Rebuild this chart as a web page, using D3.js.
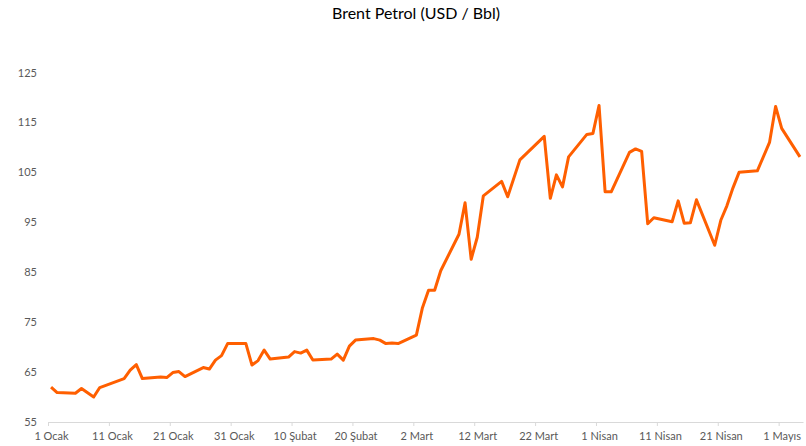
<!DOCTYPE html>
<html>
<head>
<meta charset="utf-8">
<script src="https://cdn.jsdelivr.net/npm/d3@7"></script>
<style>
  body { margin: 0; background: #fff; }
  svg { display: block; font-family: Lato, "Open Sans", sans-serif; }
</style>
</head>
<body>
<div id="chart"></div>
<script>
const width = 806;
const height = 446;

// Brent daily closes (trading days)
const dates = [
  "2026-01-01", "2026-01-02", "2026-01-05", "2026-01-06", "2026-01-08", "2026-01-09",
  "2026-01-13", "2026-01-14", "2026-01-15", "2026-01-16", "2026-01-19", "2026-01-20",
  "2026-01-21", "2026-01-22", "2026-01-23", "2026-01-26", "2026-01-27", "2026-01-28",
  "2026-01-29", "2026-01-30", "2026-02-02", "2026-02-03", "2026-02-04", "2026-02-05",
  "2026-02-06", "2026-02-09", "2026-02-10", "2026-02-11", "2026-02-12", "2026-02-13",
  "2026-02-16", "2026-02-17", "2026-02-18", "2026-02-19", "2026-02-20", "2026-02-23",
  "2026-02-24", "2026-02-25", "2026-02-26", "2026-02-27", "2026-03-02", "2026-03-03",
  "2026-03-04", "2026-03-05", "2026-03-06", "2026-03-09", "2026-03-10", "2026-03-11",
  "2026-03-12", "2026-03-13", "2026-03-16", "2026-03-17", "2026-03-19", "2026-03-23",
  "2026-03-24", "2026-03-25", "2026-03-26", "2026-03-27", "2026-03-30", "2026-03-31",
  "2026-04-01", "2026-04-02", "2026-04-03", "2026-04-06", "2026-04-07", "2026-04-08",
  "2026-04-09", "2026-04-10", "2026-04-13", "2026-04-14", "2026-04-15", "2026-04-16",
  "2026-04-17", "2026-04-20", "2026-04-21", "2026-04-22", "2026-04-23", "2026-04-24",
  "2026-04-27", "2026-04-29", "2026-04-30", "2026-05-01", "2026-05-04"
];
const prices = [
  62.0, 60.9, 60.75, 61.7, 60.0, 61.9,
  63.7, 65.4, 66.5, 63.7, 64.0, 63.9,
  64.9, 65.1, 64.1, 65.9, 65.6, 67.4,
  68.3, 70.7, 70.7, 66.4, 67.3, 69.4,
  67.6, 68.0, 69.1, 68.8, 69.4, 67.4,
  67.6, 68.6, 67.4, 70.2, 71.4, 71.7,
  71.4, 70.7, 70.8, 70.7, 72.4, 77.9,
  81.4, 81.4, 85.3, 92.6, 98.9, 87.6,
  92.0, 100.3, 103.2, 100.1, 107.5, 112.2,
  99.8, 104.5, 102.1, 108.1, 112.6, 112.8,
  118.4, 101.1, 101.1, 109.0, 109.7, 109.2,
  94.7, 95.9, 95.1, 99.3, 94.8, 94.9,
  99.5, 90.4, 95.4, 98.3, 101.9, 105.0,
  105.3, 111.0, 118.2, 113.8, 108.1
];

const tickDates = [
  "2026-01-01", "2026-01-11", "2026-01-21", "2026-01-31", "2026-02-10", "2026-02-20",
  "2026-03-02", "2026-03-12", "2026-03-22", "2026-04-01", "2026-04-11", "2026-04-21",
  "2026-05-01"
];
const tickLabels = [
  "1 Ocak", "11 Ocak", "21 Ocak", "31 Ocak", "10 Şubat", "20 Şubat",
  "2 Mart", "12 Mart", "22 Mart", "1 Nisan", "11 Nisan", "21 Nisan", "1 Mayıs"
];
const yTicks = [55, 65, 75, 85, 95, 105, 115, 125];

const parse = d3.utcParse("%Y-%m-%d");
const data = dates.map((d, i) => ({ date: parse(d), value: prices[i] }));
const ticks = tickDates.map(parse);

const svg = d3.select("#chart")
  .append("svg")
  .attr("width", width)
  .attr("height", height);

// title
svg.append("text")
  .attr("x", 416)
  .attr("y", 19)
  .attr("text-anchor", "middle")
  .style("font-size", "16px")
  .style("fill", "#000")
  .text("Brent Petrol (USD / Bbl)");

// date axis: one slot per calendar day, points sit mid-slot
const x = d3.scaleUtc()
  .domain([parse("2026-01-01"), parse("2026-05-05")])
  .range([48, 803]);
const halfDay = (x(parse("2026-01-02")) - x(parse("2026-01-01"))) / 2;

const y = d3.scaleLinear()
  .domain([55, 125])
  .range([422, 72.5]);

// Y axis (labels only)
const yAxis = svg.append("g")
  .attr("transform", "translate(37,0)")
  .call(d3.axisLeft(y).tickValues(yTicks).tickSize(0).tickPadding(0));
yAxis.select(".domain").remove();
yAxis.selectAll("text")
  .style("font-family", "Lato, 'Open Sans', sans-serif")
  .style("font-size", "11px")
  .style("fill", "#595959");

// X axis
const xAxis = svg.append("g")
  .attr("transform", `translate(0,${y(55)})`)
  .call(d3.axisBottom(x)
    .tickValues(ticks)
    .tickFormat((d, i) => tickLabels[i])
    .tickSizeInner(4)
    .tickSizeOuter(0)
    .tickPadding(6));
xAxis.select(".domain").attr("stroke", "#d9d9d9");
xAxis.selectAll(".tick line").attr("stroke", "#d9d9d9");
xAxis.selectAll("text")
  .attr("dx", halfDay)
  .style("font-family", "Lato, 'Open Sans', sans-serif")
  .style("font-size", "11px")
  .style("fill", "#595959");

// price line
const line = d3.line()
  .x(d => x(d.date) + halfDay)
  .y(d => y(d.value));

svg.append("path")
  .datum(data)
  .attr("fill", "none")
  .attr("stroke", "#ff5f00")
  .attr("stroke-width", 3)
  .attr("stroke-linejoin", "round")
  .attr("d", line);
</script>
</body>
</html>
